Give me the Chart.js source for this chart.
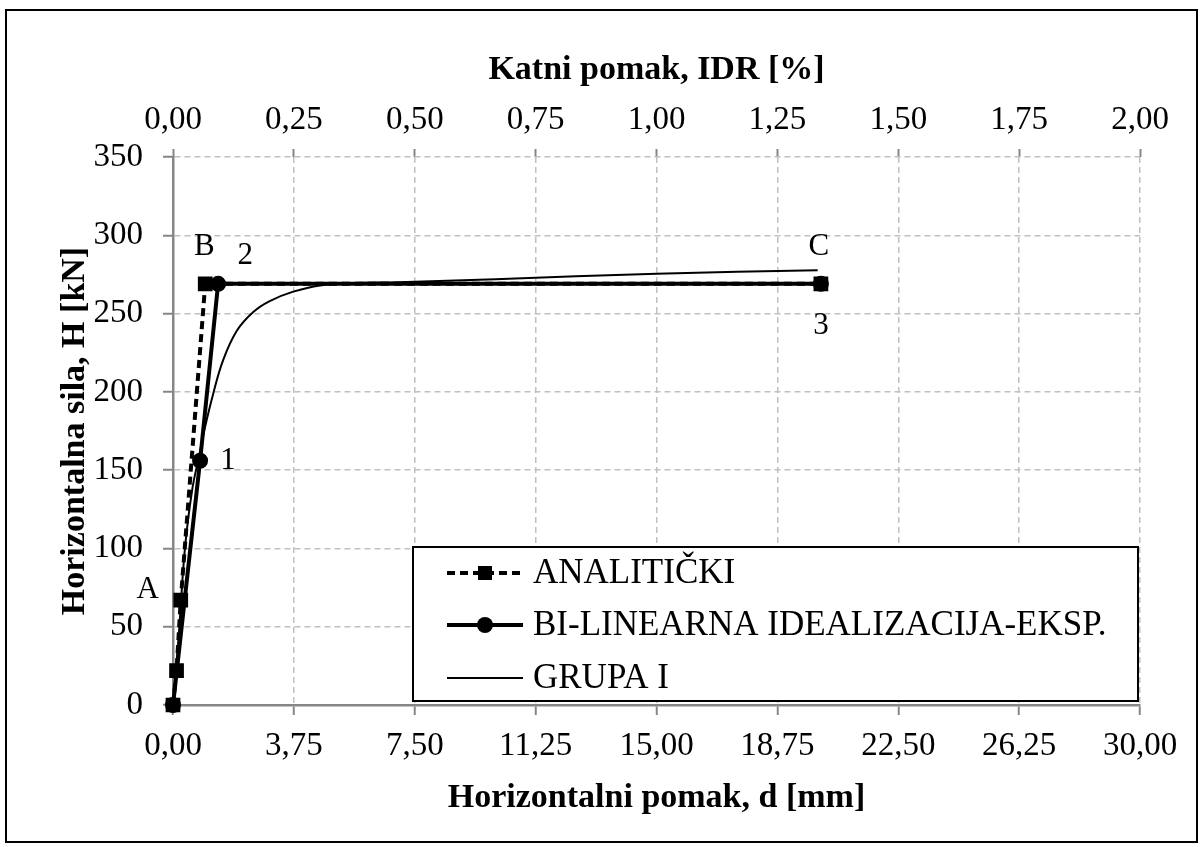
<!DOCTYPE html>
<html>
<head>
<meta charset="utf-8">
<script src="https://cdn.jsdelivr.net/npm/chart.js@4/dist/chart.umd.min.js"></script>
<style>
    body { margin: 0; background: #fff; }
    #wrap { width: 1203px; height: 847px; }
</style>
</head>
<body>
<div id="wrap"><canvas id="pushoverChart" width="1203" height="847"></canvas></div>
<script>
// values (d in mm, H in kN)
const analitickiD = [0, 0.11, 0.24, 1.0, 20.1];
const analitickiH = [0, 22, 67, 269, 269];
const bilinearD = [0, 0.84, 1.4, 20.1];
const bilinearH = [0, 156, 269, 269];
const grupaD = [0, 0.18, 0.37, 0.6, 0.8, 1.0, 1.25, 1.55, 1.98, 2.49, 3.0, 3.73, 4.56, 5.6, 7.0, 10.0, 15.0, 20.0];
const grupaH = [0, 45, 100, 138, 158, 178, 199, 220, 239, 251, 258, 264, 268, 269.5, 270, 272, 275.5, 277.6];
const seriesNames = ["ANALITIČKI", "BI-LINEARNA IDEALIZACIJA-EKSP.", "GRUPA I"];
// point labels: text, dataset, point index
const pointLabels = [
    ["A", 0, 2], ["B", 0, 3], ["C", 0, 4],
    ["1", 1, 1], ["2", 1, 2], ["3", 1, 3]
];

const serif = "'Liberation Serif', 'Times New Roman', serif";
const gridGrey = "#c0c0c0";
const axisGrey = "#868686";

function toPoints(xs, ys) {
    return xs.map((x, i) => ({ x: x, y: ys[i] }));
}

function comma(v) {
    return Number(v).toFixed(2).replace(".", ",");
}

// outer frame around the whole picture
const framePlugin = {
    id: "frame",
    beforeDraw(chart) {
        let ctx = chart.ctx;
        ctx.save();
        ctx.fillStyle = "#fff";
        ctx.fillRect(0, 0, chart.width, chart.height);
        ctx.strokeStyle = "#000";
        ctx.lineWidth = 2;
        ctx.strokeRect(6, 10, 1191, 832);
        ctx.restore();
    }
};

// letters / numbers next to the marked points
const pointLabelPlugin = {
    id: "pointLabels",
    afterDatasetsDraw(chart) {
        const offsets = { A: [-33, -10], B: [-1, -37], C: [-2, -37], "1": [28, 0], "2": [27, -28], "3": [0, 42] };
        let ctx = chart.ctx;
        ctx.save();
        ctx.font = "31px " + serif;
        ctx.fillStyle = "#000";
        ctx.textAlign = "center";
        ctx.textBaseline = "middle";
        pointLabels.forEach(([txt, ds, idx]) => {
            let el = chart.getDatasetMeta(ds).data[idx];
            let o = offsets[txt];
            ctx.fillText(txt, el.x + o[0], el.y + o[1]);
        });
        ctx.restore();
    }
};

// boxed legend inside the plot area
const legendBoxPlugin = {
    id: "legendBox",
    afterDraw(chart) {
        let ctx = chart.ctx;
        const box = { x: 413, y: 547, w: 725, h: 154 };
        const rows = [573, 625, 678];
        ctx.save();
        ctx.fillStyle = "#fff";
        ctx.fillRect(box.x, box.y, box.w, box.h);
        ctx.strokeStyle = "#000";
        ctx.lineWidth = 2;
        ctx.strokeRect(box.x, box.y, box.w, box.h);
        chart.data.datasets.forEach((ds, i) => {
            let y = rows[i];
            ctx.strokeStyle = "#000";
            ctx.lineWidth = ds.borderWidth;
            ctx.setLineDash(ds.borderDash || []);
            ctx.beginPath();
            ctx.moveTo(447, y);
            ctx.lineTo(523, y);
            ctx.stroke();
            ctx.setLineDash([]);
            if (ds.pointRadius > 0) {
                ctx.fillStyle = "#000";
                if (ds.pointStyle === "rect") {
                    ctx.fillRect(478, y - 7, 14, 14);
                } else {
                    ctx.beginPath();
                    ctx.arc(485, y, 8, 0, Math.PI * 2);
                    ctx.fill();
                }
            }
            ctx.fillStyle = "#000";
            ctx.font = "35px " + serif;
            ctx.textAlign = "left";
            ctx.textBaseline = "middle";
            ctx.fillText(ds.label, 533, y + 1);
        });
        ctx.restore();
    }
};

let ctx = document.getElementById("pushoverChart").getContext("2d");
let pushoverChart = new Chart(ctx, {
    type: "line",
    data: {
        datasets: [
            {
                label: seriesNames[0],
                data: toPoints(analitickiD, analitickiH),
                borderColor: "#000",
                backgroundColor: "#000",
                borderWidth: 4,
                borderDash: [8, 5],
                pointStyle: "rect",
                pointRadius: 9,
                pointBorderWidth: 2,
                clip: false
            },
            {
                label: seriesNames[1],
                data: toPoints(bilinearD, bilinearH),
                borderColor: "#000",
                backgroundColor: "#000",
                borderWidth: 4,
                pointStyle: "circle",
                pointRadius: 7,
                pointBorderWidth: 2,
                clip: false
            },
            {
                label: seriesNames[2],
                data: toPoints(grupaD, grupaH),
                borderColor: "#000",
                borderWidth: 2,
                pointRadius: 0,
                tension: 0.4,
                clip: false
            }
        ]
    },
    options: {
        responsive: false,
        animation: false,
        events: [],
        layout: { padding: { left: 10, top: 10, right: 63, bottom: 10 } },
        plugins: {
            legend: { display: false },
            tooltip: { enabled: false }
        },
        scales: {
            x: {
                type: "linear",
                position: "bottom",
                min: 0,
                max: 30,
                afterBuildTicks: function (scale) {
                    let t = [];
                    for (let i = 0; i <= 8; i++) t.push({ value: i * 3.75 });
                    scale.ticks = t;
                },
                ticks: {
                    callback: v => comma(v),
                    font: { family: serif, size: 33 },
                    color: "#000",
                    padding: 12,
                    maxRotation: 0
                },
                grid: { color: gridGrey, lineWidth: 1.5, tickLength: 10, tickColor: axisGrey, tickWidth: 2 },
                border: { color: axisGrey, width: 2.5, dash: [6, 4] },
                title: {
                    display: true,
                    text: "Horizontalni pomak, d [mm]",
                    font: { family: serif, size: 34, weight: "bold" },
                    color: "#000",
                    padding: { top: 0, bottom: 18 }
                },
                afterFit: function (scale) { scale.height = 132; }
            },
            x2: {
                type: "linear",
                position: "top",
                display: true,
                min: 0,
                max: 2,
                ticks: {
                    stepSize: 0.25,
                    callback: v => comma(v),
                    font: { family: serif, size: 33 },
                    color: "#000",
                    padding: 9,
                    maxRotation: 0
                },
                grid: { drawOnChartArea: false, tickLength: 8, tickColor: axisGrey, tickWidth: 2 },
                border: { display: false },
                title: {
                    display: true,
                    text: "Katni pomak, IDR [%]",
                    font: { family: serif, size: 34, weight: "bold" },
                    color: "#000",
                    padding: { top: 40, bottom: 0 }
                },
                afterFit: function (scale) { scale.height = 147; }
            },
            y: {
                min: 0,
                max: 350,
                ticks: {
                    stepSize: 50,
                    font: { family: serif, size: 33 },
                    color: "#000",
                    padding: 20
                },
                grid: { color: gridGrey, lineWidth: 1.5, tickLength: 10, tickColor: axisGrey, tickWidth: 2 },
                border: { color: axisGrey, width: 2.5, dash: [6, 4] },
                title: {
                    display: true,
                    text: "Horizontalna sila, H [kN]",
                    font: { family: serif, size: 34, weight: "bold" },
                    color: "#000",
                    padding: { top: 45, bottom: 0 }
                },
                afterFit: function (scale) { scale.width = 163; }
            }
        }
    },
    plugins: [framePlugin, pointLabelPlugin, legendBoxPlugin]
});
</script>
</body>
</html>
